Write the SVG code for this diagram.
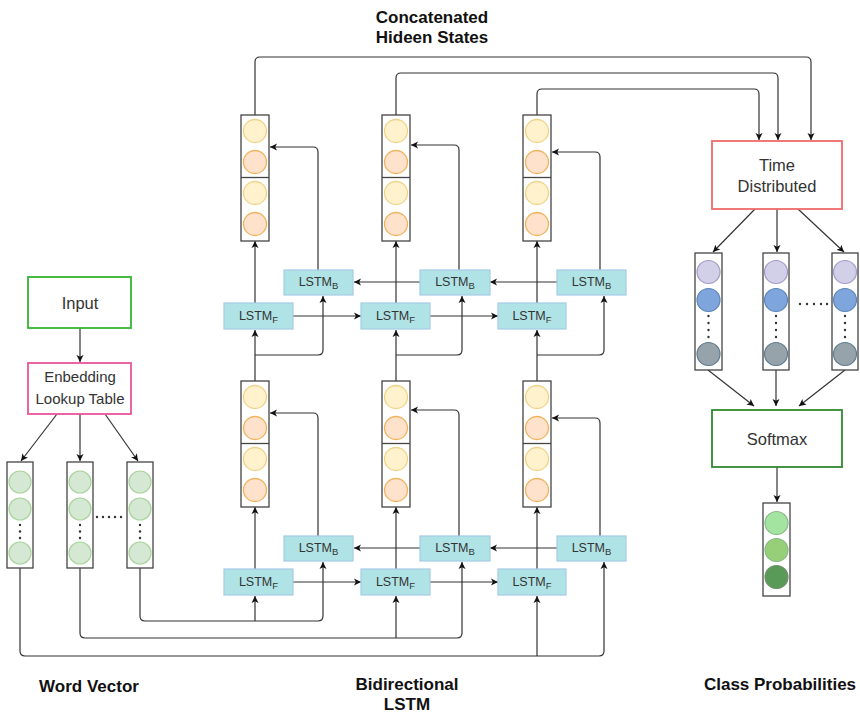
<svg xmlns="http://www.w3.org/2000/svg" width="860" height="715" viewBox="0 0 860 715">
<defs>
<marker id="ah" markerWidth="8" markerHeight="8" refX="7" refY="4" orient="auto" markerUnits="userSpaceOnUse">
<path d="M0,0.5 L7,4 L0,7.5 L1.8,4 Z" fill="#111"/>
</marker>
<style>
text{font-family:"Liberation Sans",Arial,sans-serif;fill:#333}
.title{font-weight:bold;font-size:17px;fill:#111}
.conn path{fill:none;stroke:#333;stroke-width:1.2}
.arr{marker-end:url(#ah)}
.col{fill:#fff;stroke:#444;stroke-width:1.3}
.lstm rect{fill:#b0e3e6;stroke:#a5cbe6;stroke-width:1.2}
.lstm text{font-size:12.5px;text-anchor:middle}
.y{fill:#fff2cc;stroke:#efd38a;stroke-width:1.3}
.o{fill:#ffe2cc;stroke:#efb45e;stroke-width:1.3}
.g{fill:#d5e8d4;stroke:#a9d59c;stroke-width:1.2}
.p1{fill:#d2cfe8;stroke:#a49cc8;stroke-width:1.2}
.p2{fill:#7ea6dc;stroke:#5f86b6;stroke-width:1.2}
.p3{fill:#97a3ab;stroke:#5e7d8e;stroke-width:1.2}
.dot{fill:#333}
.boxt{text-anchor:middle}
</style>
</defs>
<rect width="860" height="715" fill="#fff"/>

<!-- titles -->
<text class="title" x="432" y="23" text-anchor="middle">Concatenated</text>
<text class="title" x="432" y="43" text-anchor="middle">Hideen States</text>
<text class="title" x="89" y="692" text-anchor="middle">Word Vector</text>
<text class="title" x="407" y="690" text-anchor="middle">Bidirectional</text>
<text class="title" x="407" y="710" text-anchor="middle">LSTM</text>
<text class="title" x="780" y="690" text-anchor="middle">Class Probabilities</text>

<!-- connectors -->
<g class="conn" id="connectors">
<path class="arr" d="M80 328 V362"/>
<path class="arr" d="M57 414 L21 461"/>
<path class="arr" d="M80 414 V461"/>
<path class="arr" d="M105 414 L138 461"/>
<!-- word vector to lower lstm -->
<path class="arr" d="M20 568 V651 Q20 656 25 656 H599 Q604 656 604 651 V562"/>
<path class="arr" d="M537 656 V596"/>
<path class="arr" d="M80 568 V633 Q80 638 85 638 H457 Q462 638 462 633 V562"/>
<path class="arr" d="M396 638 V596"/>
<path class="arr" d="M140 568 V616 Q140 621 145 621 H318 Q323 621 323 616 V562"/>
<path class="arr" d="M255 621 V596"/>
<!-- lower layer -->
<path class="arr" d="M255 569 V507"/>
<path class="arr" d="M396 569 V507"/>
<path class="arr" d="M537 569 V507"/>
<path class="arr" d="M318 536 V418 Q318 413 313 413 H270"/>
<path class="arr" d="M459 536 V415 Q459 410 454 410 H411"/>
<path class="arr" d="M600 536 V423 Q600 418 595 418 H552"/>
<path class="arr" d="M293 582 H361"/>
<path class="arr" d="M430 582 H498"/>
<path class="arr" d="M557 548 H490"/>
<path class="arr" d="M420 548 H354"/>
<!-- lower hidden to upper lstm -->
<path class="arr" d="M255 381 V330"/>
<path class="arr" d="M255 355 H318 Q323 355 323 350 V296"/>
<path class="arr" d="M396 381 V330"/>
<path class="arr" d="M396 355 H457 Q462 355 462 350 V296"/>
<path class="arr" d="M537 381 V330"/>
<path class="arr" d="M537 355 H599 Q604 355 604 350 V296"/>
<!-- upper layer -->
<path class="arr" d="M255 303 V241"/>
<path class="arr" d="M396 303 V241"/>
<path class="arr" d="M537 303 V241"/>
<path class="arr" d="M318 270 V152 Q318 147 313 147 H270"/>
<path class="arr" d="M459 270 V150 Q459 145 454 145 H411"/>
<path class="arr" d="M600 270 V157 Q600 152 595 152 H552"/>
<path class="arr" d="M293 316 H361"/>
<path class="arr" d="M430 316 H498"/>
<path class="arr" d="M557 282 H490"/>
<path class="arr" d="M420 282 H354"/>
<!-- top concatenation -->
<path class="arr" d="M255 115 V62 Q255 57 260 57 H806 Q811 57 811 62 V140"/>
<path class="arr" d="M396 115 V78 Q396 73 401 73 H773 Q778 73 778 78 V140"/>
<path class="arr" d="M537 115 V94 Q537 89 542 89 H754 Q759 89 759 94 V140"/>
<!-- time distributed -->
<path class="arr" d="M755 209 L713 252"/>
<path class="arr" d="M777 209 V252"/>
<path class="arr" d="M798 209 L844 252"/>
<path class="arr" d="M708 370 L754 406"/>
<path class="arr" d="M776 370 V406"/>
<path class="arr" d="M845 370 L799 406"/>
<path class="arr" d="M777 467 V502"/>
</g>

<!-- input / embedding -->
<g id="input">
<rect x="28" y="277" width="103" height="51" fill="#fff" stroke="#33b533" stroke-width="1.8"/>
<text class="boxt" x="80" y="309" font-size="16.5">Input</text>
</g>
<g id="embedding">
<rect x="28" y="363" width="103" height="51" fill="#fff" stroke="#e8559a" stroke-width="1.8"/>
<text class="boxt" x="80" y="382" font-size="15">Enbedding</text>
<text class="boxt" x="80" y="404" font-size="15">Lookup Table</text>
</g>

<!-- word vectors -->
<g id="wordvec1">
<rect class="col" x="7" y="462" width="26" height="106"/>
<circle class="g" cx="20" cy="482" r="11"/><circle class="g" cx="20" cy="509" r="11"/><circle class="g" cx="20" cy="553" r="11"/>
<circle class="dot" cx="20" cy="525" r="1.2"/><circle class="dot" cx="20" cy="531.5" r="1.2"/><circle class="dot" cx="20" cy="538" r="1.2"/>
</g>
<g id="wordvec2">
<rect class="col" x="67" y="462" width="26" height="106"/>
<circle class="g" cx="80" cy="482" r="11"/><circle class="g" cx="80" cy="509" r="11"/><circle class="g" cx="80" cy="553" r="11"/>
<circle class="dot" cx="80" cy="525" r="1.2"/><circle class="dot" cx="80" cy="531.5" r="1.2"/><circle class="dot" cx="80" cy="538" r="1.2"/>
</g>
<g id="wordvec-dots">
<circle class="dot" cx="97" cy="517" r="1.2"/><circle class="dot" cx="103" cy="517" r="1.2"/><circle class="dot" cx="109" cy="517" r="1.2"/><circle class="dot" cx="115" cy="517" r="1.2"/><circle class="dot" cx="121" cy="517" r="1.2"/>
</g>
<g id="wordvec3">
<rect class="col" x="127" y="462" width="26" height="106"/>
<circle class="g" cx="140" cy="482" r="11"/><circle class="g" cx="140" cy="509" r="11"/><circle class="g" cx="140" cy="553" r="11"/>
<circle class="dot" cx="140" cy="525" r="1.2"/><circle class="dot" cx="140" cy="531.5" r="1.2"/><circle class="dot" cx="140" cy="538" r="1.2"/>
</g>

<!-- hidden states lower -->
<g id="hidden-l1">
<rect class="col" x="241" y="381" width="28" height="126"/><line x1="241" y1="443.5" x2="269" y2="443.5" stroke="#444" stroke-width="1.3"/>
<circle class="y" cx="255" cy="397" r="11.5"/><circle class="o" cx="255" cy="428" r="11.5"/><circle class="y" cx="255" cy="459" r="11.5"/><circle class="o" cx="255" cy="490" r="11.5"/>
</g>
<g id="hidden-l2">
<rect class="col" x="382" y="381" width="28" height="126"/><line x1="382" y1="443.5" x2="410" y2="443.5" stroke="#444" stroke-width="1.3"/>
<circle class="y" cx="396" cy="397" r="11.5"/><circle class="o" cx="396" cy="428" r="11.5"/><circle class="y" cx="396" cy="459" r="11.5"/><circle class="o" cx="396" cy="490" r="11.5"/>
</g>
<g id="hidden-l3">
<rect class="col" x="523" y="381" width="28" height="126"/><line x1="523" y1="443.5" x2="551" y2="443.5" stroke="#444" stroke-width="1.3"/>
<circle class="y" cx="537" cy="397" r="11.5"/><circle class="o" cx="537" cy="428" r="11.5"/><circle class="y" cx="537" cy="459" r="11.5"/><circle class="o" cx="537" cy="490" r="11.5"/>
</g>

<!-- hidden states upper -->
<g id="hidden-u1">
<rect class="col" x="241" y="115" width="28" height="126"/><line x1="241" y1="177.5" x2="269" y2="177.5" stroke="#444" stroke-width="1.3"/>
<circle class="y" cx="255" cy="131" r="11.5"/><circle class="o" cx="255" cy="162" r="11.5"/><circle class="y" cx="255" cy="193" r="11.5"/><circle class="o" cx="255" cy="224" r="11.5"/>
</g>
<g id="hidden-u2">
<rect class="col" x="382" y="115" width="28" height="126"/><line x1="382" y1="177.5" x2="410" y2="177.5" stroke="#444" stroke-width="1.3"/>
<circle class="y" cx="396" cy="131" r="11.5"/><circle class="o" cx="396" cy="162" r="11.5"/><circle class="y" cx="396" cy="193" r="11.5"/><circle class="o" cx="396" cy="224" r="11.5"/>
</g>
<g id="hidden-u3">
<rect class="col" x="523" y="115" width="28" height="126"/><line x1="523" y1="177.5" x2="551" y2="177.5" stroke="#444" stroke-width="1.3"/>
<circle class="y" cx="537" cy="131" r="11.5"/><circle class="o" cx="537" cy="162" r="11.5"/><circle class="y" cx="537" cy="193" r="11.5"/><circle class="o" cx="537" cy="224" r="11.5"/>
</g>

<!-- LSTM cells lower -->
<g id="lstmF-l1" class="lstm"><rect x="224" y="569" width="69" height="26"/><text x="258.5" y="586">LSTM<tspan font-size="9.5" dy="2.5">F</tspan></text></g>
<g id="lstmF-l2" class="lstm"><rect x="361" y="569" width="69" height="26"/><text x="395.5" y="586">LSTM<tspan font-size="9.5" dy="2.5">F</tspan></text></g>
<g id="lstmF-l3" class="lstm"><rect x="498" y="569" width="68" height="26"/><text x="532" y="586">LSTM<tspan font-size="9.5" dy="2.5">F</tspan></text></g>
<g id="lstmB-l1" class="lstm"><rect x="284" y="536" width="69" height="25"/><text x="318.5" y="552">LSTM<tspan font-size="9.5" dy="2.5">B</tspan></text></g>
<g id="lstmB-l2" class="lstm"><rect x="420" y="536" width="70" height="25"/><text x="455" y="552">LSTM<tspan font-size="9.5" dy="2.5">B</tspan></text></g>
<g id="lstmB-l3" class="lstm"><rect x="557" y="536" width="69" height="25"/><text x="591.5" y="552">LSTM<tspan font-size="9.5" dy="2.5">B</tspan></text></g>

<!-- LSTM cells upper -->
<g id="lstmF-u1" class="lstm"><rect x="224" y="303" width="69" height="26"/><text x="258.5" y="320">LSTM<tspan font-size="9.5" dy="2.5">F</tspan></text></g>
<g id="lstmF-u2" class="lstm"><rect x="361" y="303" width="69" height="26"/><text x="395.5" y="320">LSTM<tspan font-size="9.5" dy="2.5">F</tspan></text></g>
<g id="lstmF-u3" class="lstm"><rect x="498" y="303" width="68" height="26"/><text x="532" y="320">LSTM<tspan font-size="9.5" dy="2.5">F</tspan></text></g>
<g id="lstmB-u1" class="lstm"><rect x="284" y="270" width="69" height="25"/><text x="318.5" y="286">LSTM<tspan font-size="9.5" dy="2.5">B</tspan></text></g>
<g id="lstmB-u2" class="lstm"><rect x="420" y="270" width="70" height="25"/><text x="455" y="286">LSTM<tspan font-size="9.5" dy="2.5">B</tspan></text></g>
<g id="lstmB-u3" class="lstm"><rect x="557" y="270" width="69" height="25"/><text x="591.5" y="286">LSTM<tspan font-size="9.5" dy="2.5">B</tspan></text></g>

<!-- time distributed -->
<g id="time-distributed">
<rect x="712" y="141" width="130" height="68" fill="#fff" stroke="#f06a6a" stroke-width="1.8"/>
<text class="boxt" x="777" y="171" font-size="16.5">Time</text>
<text class="boxt" x="777" y="192" font-size="16.5">Distributed</text>
</g>

<!-- output vectors -->
<g id="out1">
<rect class="col" x="695" y="253" width="27" height="117"/>
<circle class="p1" cx="708.5" cy="272" r="11.5"/><circle class="p2" cx="708.5" cy="300" r="11.5"/><circle class="p3" cx="708.5" cy="354" r="11.5"/>
<circle class="dot" cx="708.5" cy="316" r="1.2"/><circle class="dot" cx="708.5" cy="323" r="1.2"/><circle class="dot" cx="708.5" cy="330" r="1.2"/><circle class="dot" cx="708.5" cy="337" r="1.2"/>
</g>
<g id="out2">
<rect class="col" x="763" y="253" width="26" height="117"/>
<circle class="p1" cx="776" cy="272" r="11.5"/><circle class="p2" cx="776" cy="300" r="11.5"/><circle class="p3" cx="776" cy="354" r="11.5"/>
<circle class="dot" cx="776" cy="316" r="1.2"/><circle class="dot" cx="776" cy="323" r="1.2"/><circle class="dot" cx="776" cy="330" r="1.2"/><circle class="dot" cx="776" cy="337" r="1.2"/>
</g>
<g id="out-dots">
<circle class="dot" cx="800" cy="304" r="1.2"/><circle class="dot" cx="807" cy="304" r="1.2"/><circle class="dot" cx="814" cy="304" r="1.2"/><circle class="dot" cx="821" cy="304" r="1.2"/><circle class="dot" cx="827" cy="304" r="1.2"/>
</g>
<g id="out3">
<rect class="col" x="832" y="253" width="26" height="117"/>
<circle class="p1" cx="845" cy="272" r="11.5"/><circle class="p2" cx="845" cy="300" r="11.5"/><circle class="p3" cx="845" cy="354" r="11.5"/>
<circle class="dot" cx="845" cy="316" r="1.2"/><circle class="dot" cx="845" cy="323" r="1.2"/><circle class="dot" cx="845" cy="330" r="1.2"/><circle class="dot" cx="845" cy="337" r="1.2"/>
</g>

<!-- softmax -->
<g id="softmax">
<rect x="712" y="410" width="130" height="57" fill="#fff" stroke="#2f8a2f" stroke-width="1.8"/>
<text class="boxt" x="777" y="445" font-size="16.5">Softmax</text>
</g>

<!-- class probabilities -->
<g id="class-probs">
<rect class="col" x="763" y="503" width="27" height="93"/>
<circle cx="776.5" cy="523" r="11.5" fill="#a3e5a0" stroke="#8cb88a" stroke-width="1.2"/>
<circle cx="776.5" cy="550" r="11.5" fill="#97cf78" stroke="#8cb88a" stroke-width="1.2"/>
<circle cx="776.5" cy="577" r="11.5" fill="#5a9a58" stroke="#6f8f6f" stroke-width="1.2"/>
</g>
</svg>
